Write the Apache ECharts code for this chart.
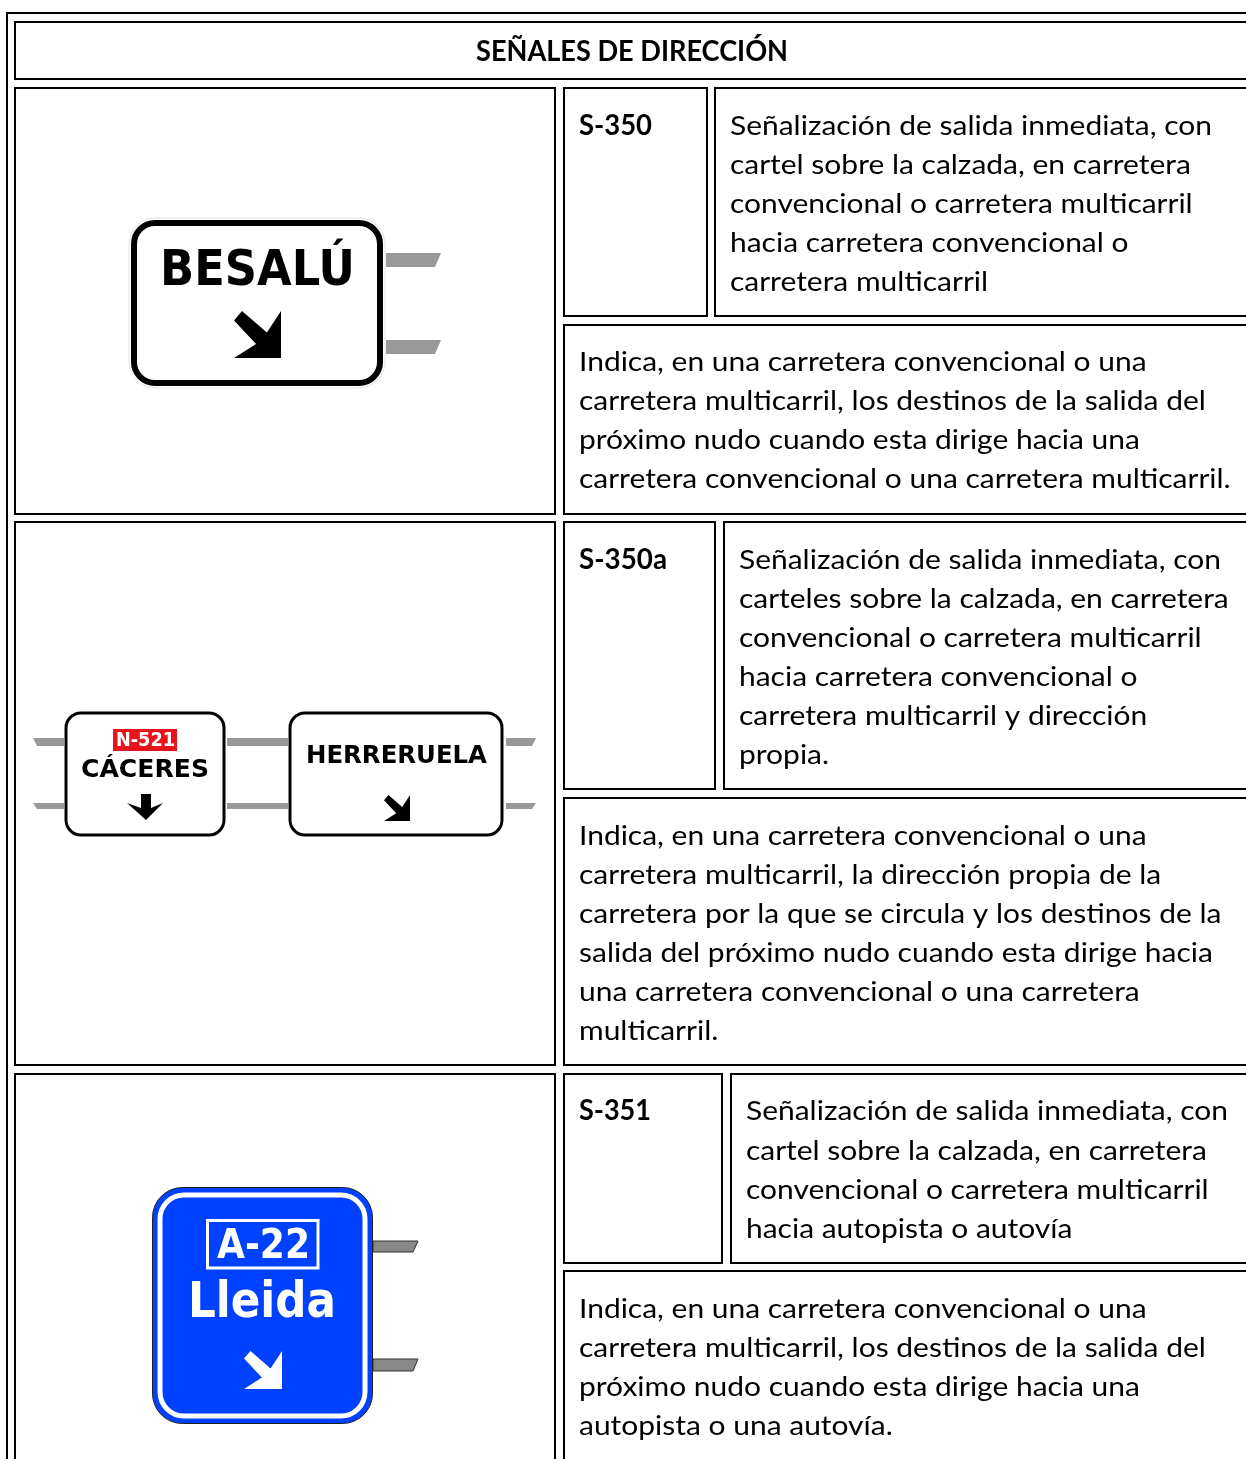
<!DOCTYPE html>
<html>
<head>
<meta charset="utf-8">
<title>Señales de dirección</title>
<style>
html, body { margin: 0; padding: 0; background: #fff; }
#chart { width: 1246px; height: 1459px; }
</style>
<script src="https://cdn.jsdelivr.net/npm/echarts@6/dist/echarts.min.js"></script>
</head>
<body>
<div id="chart"></div>
<script>
const title_text = 'SEÑALES DE DIRECCIÓN';
const codes = ['S-350', 'S-350a', 'S-351'];
const short_350 = ['Señalización de salida inmediata, con', 'cartel sobre la calzada, en carretera', 'convencional o carretera multicarril', 'hacia carretera convencional o', 'carretera multicarril'];
const long_350 = ['Indica, en una carretera convencional o una', 'carretera multicarril, los destinos de la salida del', 'próximo nudo cuando esta dirige hacia una', 'carretera convencional o una carretera multicarril.'];
const short_350a = ['Señalización de salida inmediata, con', 'carteles sobre la calzada, en carretera', 'convencional o carretera multicarril', 'hacia carretera convencional o', 'carretera multicarril y dirección', 'propia.'];
const long_350a = ['Indica, en una carretera convencional o una', 'carretera multicarril, la dirección propia de la', 'carretera por la que se circula y los destinos de la', 'salida del próximo nudo cuando esta dirige hacia', 'una carretera convencional o una carretera', 'multicarril.'];
const short_351 = ['Señalización de salida inmediata, con', 'cartel sobre la calzada, en carretera', 'convencional o carretera multicarril', 'hacia autopista o autovía'];
const long_351 = ['Indica, en una carretera convencional o una', 'carretera multicarril, los destinos de la salida del', 'próximo nudo cuando esta dirige hacia una', 'autopista o una autovía.'];
const sign_texts = ['BESALÚ', 'N-521', 'CÁCERES', 'HERRERUELA', 'A-22', 'Lleida'];

const body_font = '27.5px Lato';
const bold_font = 'bold 28px Lato';
const sign_family = '"DejaVu Sans"';
const arm_grey = '#999999';
const sign_blue = '#0040ff';

const measure = document.createElement('canvas').getContext('2d');
const els = [];

function box(x0, y0, x1, y1) {
    els.push({ type: 'rect', shape: { x: x0, y: y0, width: x1 - x0, height: y1 - y0 }, style: { fill: 'none', stroke: '#000', lineWidth: 2 } });
}

function rounded(x0, y0, x1, y1, r, fill, stroke, lineWidth) {
    els.push({ type: 'rect', shape: { x: x0, y: y0, width: x1 - x0, height: y1 - y0, r: r }, style: { fill: fill, stroke: stroke || 'none', lineWidth: lineWidth || 0 } });
}

function poly(points, fill, stroke) {
    els.push({ type: 'polygon', shape: { points: points }, style: { fill: fill, stroke: stroke || 'none', lineWidth: stroke ? 1 : 0 } });
}

function line(text, x, y, font, scale) {
    els.push({ type: 'text', x: x, y: y, scaleX: scale || 1, style: { text: text, x: 0, y: 0, font: font, fill: '#000', align: 'left', verticalAlign: 'middle' } });
}

function lines(list, x, ys) {
    list.forEach((text, i) => line(text, x, ys[i], body_font, text_scale));
}

// bold table text squeezed between two x positions
function fitBold(text, x0, x1, y) {
    measure.font = bold_font;
    line(text, x0, y, bold_font, (x1 - x0) / measure.measureText(text).width);
}

// squeezes a sign's text between two x positions
function fit(text, x0, x1, yMid, size, fill) {
    const font = 'bold ' + size + 'px ' + sign_family;
    measure.font = font;
    const scale = (x1 - x0) / measure.measureText(text).width;
    els.push({ type: 'text', x: x0, y: yMid, scaleX: scale, style: { text: text, x: 0, y: 0, font: font, fill: fill, align: 'left', verticalAlign: 'middle' } });
}

// arrow towards the lower right, size is the side of the head
function arrow(x, y, size, fill) {
    const pts = [[1, 0], [1, 1], [0, 1], [0.47, 0.7], [0, 0.2], [0.17, 0], [0.7, 0.46]];
    poly(pts.map(p => [x + p[0] * size, y + p[1] * size]), fill);
}

measure.font = body_font;
const text_scale = 482 / measure.measureText(short_350[0]).width;

// table frame
box(7, 13, 1300, 1500);
box(15, 22, 1300, 79);
box(15, 88, 555, 514);
box(564, 88, 707, 316);
box(715, 88, 1300, 316);
box(564, 325, 1300, 514);
box(15, 522, 555, 1065);
box(564, 522, 715, 789);
box(724, 522, 1300, 789);
box(564, 798, 1300, 1065);
box(15, 1074, 555, 1500);
box(564, 1074, 722, 1263);
box(731, 1074, 1300, 1263);
box(564, 1271, 1300, 1500);

// texts
fitBold(title_text, 476, 788, 52);
fitBold(codes[0], 579, 652, 126);
fitBold(codes[1], 579, 667, 560);
fitBold(codes[2], 579, 651, 1111);
lines(short_350, 730, [126, 165, 204, 243, 282]);
lines(long_350, 579, [362, 401, 440, 479]);
lines(short_350a, 739, [560, 599, 638, 677, 716, 755]);
lines(long_350a, 579, [836, 875, 914, 953, 992, 1031]);
lines(short_351, 746, [1111, 1151, 1190, 1229]);
lines(long_351, 579, [1309, 1348, 1387, 1426]);

// S-350 sign
poly([[386, 253], [441, 253], [435, 267], [386, 267]], arm_grey);
poly([[386, 340], [441, 340], [435, 354], [386, 354]], arm_grey);
rounded(129, 218, 385, 388, 26, '#fff', '#e4e4e4', 1);
rounded(134, 223, 380, 383, 21, '#fff', '#000', 6);
fit(sign_texts[0], 160, 355, 272, 50, '#000');
arrow(234, 311, 47, '#000');

// S-350a signs
[[738, 746], [803, 809]].forEach(a => {
    poly([[33, a[0]], [64, a[0]], [64, a[1]], [37, a[1]]], arm_grey);
    poly([[227, a[0]], [288, a[0]], [288, a[1]], [227, a[1]]], arm_grey);
    poly([[506, a[0]], [536, a[0]], [532, a[1]], [506, a[1]]], arm_grey);
});
rounded(66, 713, 224, 835, 15, '#fff', '#000', 3);
els.push({ type: 'rect', shape: { x: 113, y: 729, width: 64, height: 22 }, style: { fill: '#e8141c' } });
fit(sign_texts[1], 116, 175, 741, 20, '#fff');
fit(sign_texts[2], 81, 209, 770, 25, '#000');
poly([[141, 794], [151, 794], [151, 808], [163, 803], [146, 820], [127, 803], [141, 808]], '#000');
rounded(290, 713, 502, 835, 15, '#fff', '#000', 3);
fit(sign_texts[3], 306, 487, 756, 25, '#000');
arrow(384, 795, 26, '#000');

// S-351 sign
[[1241, 1252], [1359, 1371]].forEach(a => {
    poly([[373, a[0]], [418, a[0]], [413, a[1]], [373, a[1]]], '#888888', '#333');
});
rounded(152.5, 1187.5, 372.5, 1423.5, 30, sign_blue, '#222', 1);
rounded(160, 1195, 365, 1416, 24, sign_blue, '#fff', 5);
rounded(207.5, 1220.5, 318, 1268, 0, 'none', '#fff', 3);
fit(sign_texts[4], 217, 310, 1248, 40, '#fff');
fit(sign_texts[5], 188, 336, 1304, 50, '#fff');
arrow(244, 1351, 38, '#fff');

const chart = echarts.init(document.getElementById('chart'));
chart.setOption({ animation: false, backgroundColor: '#fff', graphic: { elements: els } });
</script>
</body>
</html>
